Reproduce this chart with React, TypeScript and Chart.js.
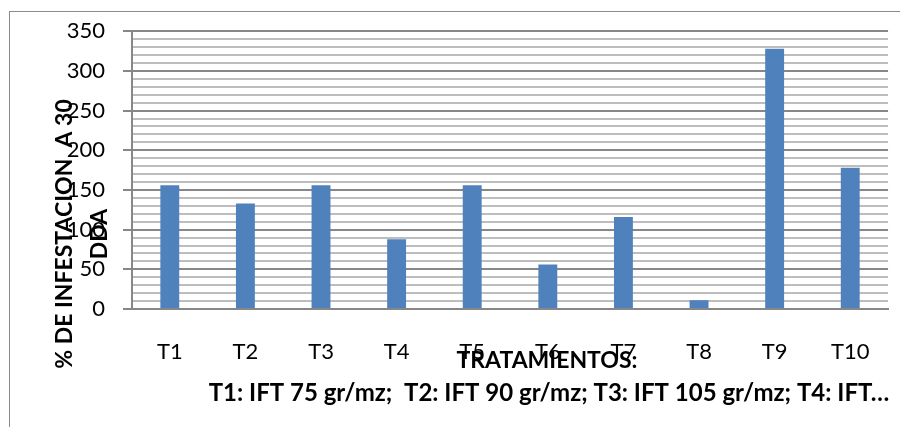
import { useEffect, useRef } from "react";
import { Chart, registerables } from "chart.js";

Chart.register(...registerables);

// Infestation percentage at 30 days after application, per treatment
const categories = ["T1", "T2", "T3", "T4", "T5", "T6", "T7", "T8", "T9", "T10"];
const infestation = [156, 133, 156, 88, 156, 56, 116, 11, 328, 178];

const yMin = 0;
const yMax = 350;
const yMinorStep = 10;
const yMajorStep = 50;

const yTitleLines = ["% DE INFESTACION  A 30", "DDA"];
const xTitle = "TRATAMIENTOS:";
const xNote = "T1: IFT 75 gr/mz;  T2: IFT 90 gr/mz; T3: IFT 105 gr/mz; T4: IFT…";

const FONT = "Lato, 'Open Sans', sans-serif";
const BAR_COLOR = "#4F81BD";
const MAJOR_GRID = "#878787";
const MINOR_GRID = "#bdbdbd";

const isMajor = (v: number) => v % yMajorStep === 0;

// Frame around the chart plus the axis titles (drawn by hand so they can sit
// where the layout wants them).
const decorations = {
  id: "decorations",
  beforeDraw(chart: any) {
    const { ctx, width, height } = chart;
    ctx.save();
    ctx.fillStyle = "#ffffff";
    ctx.fillRect(0, 0, width, height);
    ctx.strokeStyle = "#8c8c8c";
    ctx.lineWidth = 1;
    ctx.strokeRect(9.5, 11.5, width + 40, height + 40);
    ctx.restore();
  },
  afterDraw(chart: any) {
    const { ctx, chartArea: a } = chart;
    ctx.save();
    ctx.fillStyle = "#000000";
    ctx.textAlign = "center";
    ctx.textBaseline = "middle";

    ctx.font = `bold 23px ${FONT}`;
    ctx.fillText(xTitle, a.left + 415, a.bottom + 52);
    ctx.font = `bold 24px ${FONT}`;
    ctx.fillText(xNote, a.left + 417, a.bottom + 84);

    ctx.font = `bold 23px ${FONT}`;
    const yCenter = a.bottom - 75;
    const lineX = [a.left - 67, a.left - 32];
    yTitleLines.forEach((line, i) => {
      ctx.save();
      ctx.translate(lineX[i], yCenter);
      ctx.rotate(-Math.PI / 2);
      ctx.fillText(line, 0, 0);
      ctx.restore();
    });
    ctx.restore();
  },
};

export default function App() {
  const canvasRef = useRef<HTMLCanvasElement | null>(null);

  useEffect(() => {
    const canvas = canvasRef.current;
    if (!canvas) return;
    const chart = new Chart(canvas, {
      type: "bar",
      data: {
        labels: categories,
        datasets: [
          {
            data: infestation,
            backgroundColor: BAR_COLOR,
            borderWidth: 0,
            categoryPercentage: 0.25,
            barPercentage: 1,
          },
        ],
      },
      options: {
        responsive: false,
        animation: false,
        layout: { padding: { left: 0, top: 28, right: 10, bottom: 0 } },
        plugins: {
          legend: { display: false },
          tooltip: { enabled: false },
          title: { display: false },
        },
        scales: {
          x: {
            afterFit(scale: any) {
              scale.height = 118;
            },
            grid: { display: false, drawTicks: false },
            border: { color: MAJOR_GRID, width: 2 },
            ticks: {
              padding: 30,
              color: "#000000",
              font: { family: FONT, size: 22 },
            },
          },
          y: {
            min: yMin,
            max: yMax,
            afterFit(scale: any) {
              scale.width = 132;
            },
            ticks: {
              stepSize: yMinorStep,
              autoSkip: false,
              padding: 18,
              color: "#000000",
              font: { family: FONT, size: 22 },
              callback: (v: any) => (isMajor(Number(v)) ? String(v) : ""),
            },
            grid: {
              color: (c: any) => (isMajor(c.tick.value) ? MAJOR_GRID : MINOR_GRID),
              lineWidth: 2,
              tickLength: 9,
              tickColor: (c: any) => (isMajor(c.tick.value) ? MAJOR_GRID : "rgba(0,0,0,0)"),
            },
            border: { color: MAJOR_GRID, width: 2 },
          },
        },
      },
      plugins: [decorations],
    });
    return () => chart.destroy();
  }, []);

  return (
    <div style={{ position: "absolute", left: 0, top: 0, width: 900, height: 427 }}>
      <canvas ref={canvasRef} width={900} height={427} />
    </div>
  );
}
